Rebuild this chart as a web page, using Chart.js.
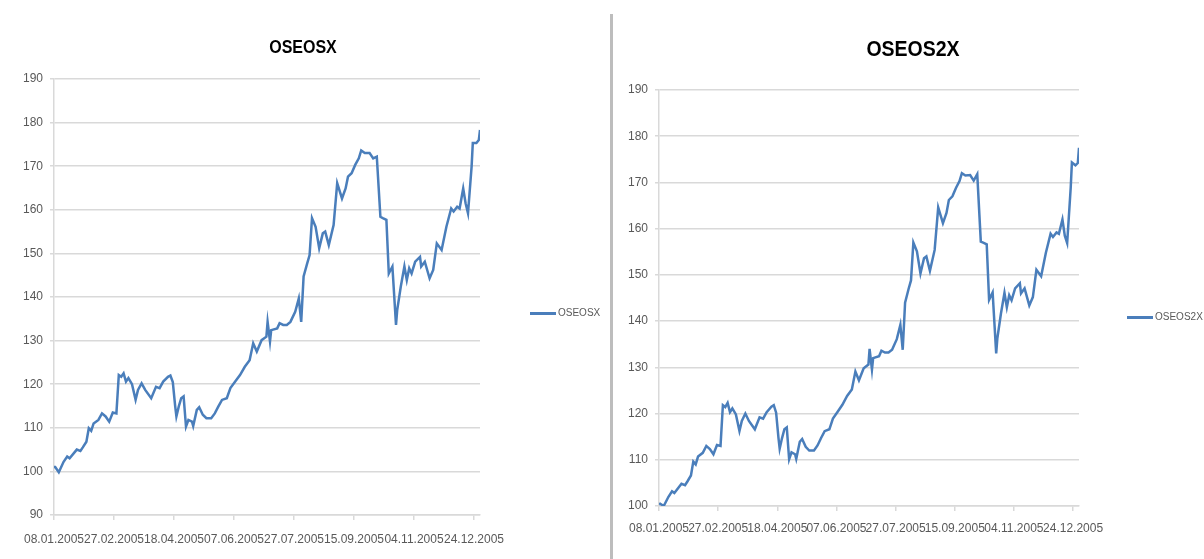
<!DOCTYPE html>
<html>
<head>
<meta charset="utf-8">
<script src="https://cdn.jsdelivr.net/npm/chart.js@4/dist/chart.umd.min.js"></script>
<style>
  html, body { margin: 0; padding: 0; background: #fff; }
  body { width: 1204px; height: 559px; position: relative; overflow: hidden; }
  .pane { position: absolute; top: 0; }
  .title { position: absolute; font-family: "Liberation Sans", sans-serif;
           font-weight: bold; color: #000; white-space: nowrap; transform: translate(-50%, -50%); }
  .legend { position: absolute; font-family: "Liberation Sans", sans-serif; font-size: 10px;
            color: #595959; white-space: nowrap; }
  .legend i { display: inline-block; width: 26px; height: 3px; background: #4a7ebb;
              vertical-align: middle; margin-right: 2px; }
  .sep { position: absolute; left: 610px; top: 14px; width: 3px; height: 545px; background: #bdbdbd; }
</style>
</head>
<body>
<div class="pane" style="left:0;width:600px;height:559px"><canvas id="c1" width="600" height="559"></canvas></div>
<div class="pane" style="left:613px;width:591px;height:559px"><canvas id="c2" width="591" height="559"></canvas></div>
<div class="sep"></div>
<div class="title" style="left:303px;top:47px;font-size:16px;transform:translate(-50%,-50%) scaleY(1.15)">OSEOSX</div>
<div class="title" style="left:913px;top:49px;font-size:19.5px;transform:translate(-50%,-50%) scaleY(1.15)">OSEOS2X</div>
<div class="legend" style="left:530px;top:307px"><i></i>OSEOSX</div>
<div class="legend" style="left:1127px;top:311px"><i></i>OSEOS2X</div>
<script>
// x-axis tick labels, one every 50 days from 08.01.2005
const tickLabels = ['08.01.2005','27.02.2005','18.04.2005','07.06.2005','27.07.2005','15.09.2005','04.11.2005','24.12.2005'];

// days since 08.01.2005
const days = [0,1,4,8,11,13,19,22,24,27, 29,31,33,37,40,43,46,49,52,54,
  56,58,60,62,65,68,70,73,76,81, 85,88,91,95,97,99,101,102,104,106,
  108,110,112,115,116,119,121,124,127,131, 134,137,140,144,147,151,155,159,163,166,
  169,173,177,178,180,181,186,188,191,194, 197,201,204,206,208,211,213,215,218,221,
  224,226,229,233,236,240,243,245,248,251, 254,256,259,263,266,269,272,274,277,279,
  282,285,286,289,292,294,296,298,301,305, 306,309,313,316,319,323,327,331,333,336,
  338,341,343,345,348,349,352,354,355];

const oseosx = [101,101,99.8,102.2,103.4,103,105,104.7,105.5,106.8,
  109.9,109.3,111,111.8,113.3,112.6,111.4,113.5,113.3,122.1,
  121.7,122.5,120.6,121.4,120,116.4,118.7,120.2,118.7,116.8,
  119.4,119.1,120.6,121.7,122,120.5,114.9,112.6,114.9,116.8,
  117.2,110.3,111.8,111.4,110.4,114.1,114.7,113,112.2,112.2,
  113.3,114.9,116.4,116.8,119.1,120.6,122.1,124,125.5,129.4,
  127.5,130.1,130.9,134.3,129.8,132.4,132.8,134,133.6,133.6,
  134.3,136.6,139.7,134.3,144.7,147.7,149.6,158.1,156.1,151.2,
  154.6,155,151.9,156.5,166.1,162.6,164.9,167.6,168.4,170.3,
  171.8,173.6,173,173,171.8,172.2,158.4,158.1,157.7,145.4,
  147,133.6,137,142.4,147,143.9,146.6,145.4,148.1,149.2,
  147,148.1,144.3,146.2,152.3,150.8,156.1,160.3,159.6,160.7,
  160.3,164.9,161.5,159.2,169.9,175.3,175.3,176,178.3];

const oseos2x = [100.3,100.5,100,102,103.2,102.8,104.8,104.5,105.3,106.6,
  109.6,109,110.7,111.5,113,112.3,111.2,113.2,113,121.8,
  121.4,122.3,120.3,121.1,119.8,116.2,118.4,120,118.4,116.6,
  119.2,118.9,120.3,121.5,121.8,120.2,114.7,112.4,114.7,116.6,
  117,110.1,111.6,111.2,110.2,113.9,114.5,112.8,112,112,
  113.1,114.7,116.2,116.6,118.9,120.4,121.9,123.8,125.2,129.1,
  127.2,129.8,130.6,134,129.5,132,132.4,133.6,133.2,133.2,
  133.8,136.1,139.2,133.8,144,147,148.8,157,155.1,150.3,
  153.6,154,150.9,155.4,164.6,161.2,163.4,166.2,167,168.8,
  170.3,172,171.5,171.6,170.4,171.8,157.2,157,156.6,144.6,
  146.2,133,136.3,141.6,146.1,143,145.6,144.5,147.1,148.2,
  146,147.1,143.4,145.2,151.1,149.7,154.8,158.9,158.2,159.2,
  158.9,162,158.5,156.9,168.9,174.3,173.7,174.2,177.5];

const GRID = '#d9d9d9';
const TICK_FONT = { family: '"Liberation Sans", sans-serif', size: 12 };

function lineChart(id, label, values, cfg) {
  return new Chart(document.getElementById(id), {
    type: 'line',
    data: {
      datasets: [{
        label,
        data: days.map((d, i) => ({ x: d, y: values[i] })),
        borderColor: '#4a7ebb',
        borderWidth: 2.5,
        pointRadius: 0,
        tension: 0,
        fill: false,
      }],
    },
    options: {
      responsive: false, animation: false, devicePixelRatio: 1,
      layout: { padding: { left: 0, right: cfg.padRight, top: cfg.padTop, bottom: 0 } },
      plugins: { legend: { display: false }, title: { display: false }, tooltip: { enabled: false } },
      scales: {
        x: {
          type: 'linear', min: 0, max: 355,
          afterFit: s => { s.height = cfg.xHeight; },
          border: { color: GRID, width: 1.5 },
          grid: { drawOnChartArea: false, drawTicks: true, tickLength: 5, color: GRID, lineWidth: 1.5 },
          ticks: {
            stepSize: 50, includeBounds: false, autoSkip: false, maxRotation: 0, minRotation: 0,
            padding: cfg.xPad, color: '#595959', font: TICK_FONT,
            callback: v => tickLabels[v / 50] ?? '',
          },
        },
        y: {
          min: cfg.yMin, max: 190,
          afterFit: s => { s.width = cfg.yWidth; },
          border: { color: GRID, width: 1.5 },
          grid: { color: GRID, lineWidth: 1.5, tickLength: 4 },
          ticks: { stepSize: 10, padding: 7, color: '#595959', font: TICK_FONT },
        },
      },
    },
  });
}

lineChart('c1', 'OSEOSX', oseosx, { padRight: 120, padTop: 79, xHeight: 44, xPad: 12, yWidth: 54, yMin: 90 });
lineChart('c2', 'OSEOS2X', oseos2x, { padRight: 125, padTop: 90, xHeight: 53, xPad: 10, yWidth: 46, yMin: 100 });
</script>
</body>
</html>
